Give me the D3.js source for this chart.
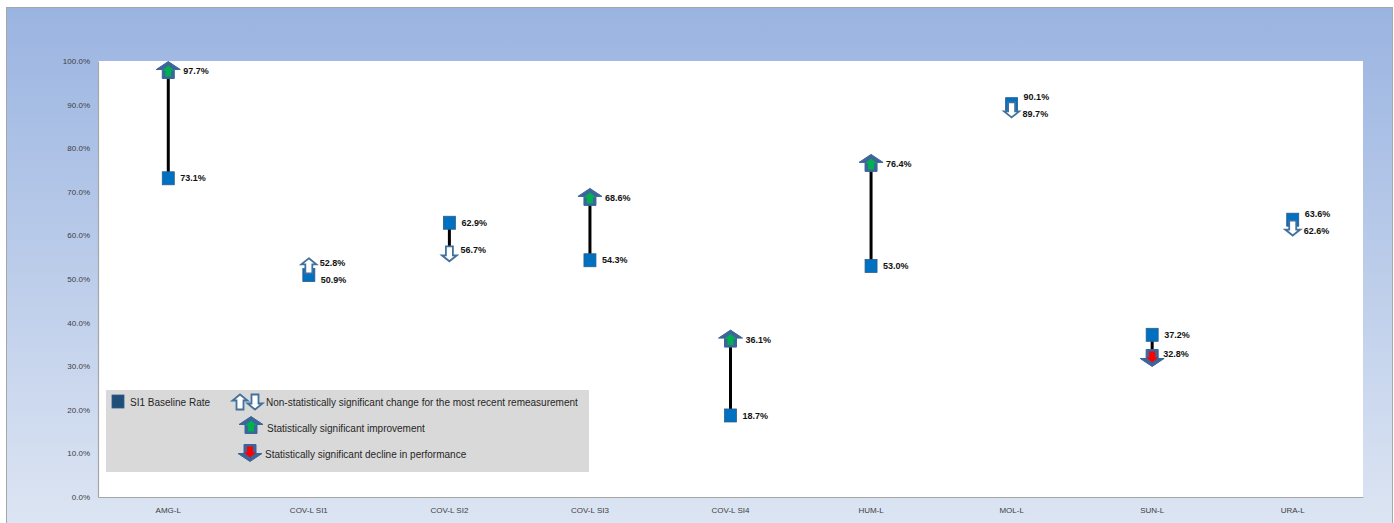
<!DOCTYPE html>
<html><head><meta charset="utf-8">
<script src="https://cdn.jsdelivr.net/npm/d3@7/dist/d3.min.js"></script>
<style>body{margin:0;background:#fff;}svg{display:block;}</style>
</head><body><svg id="c" width="1394" height="523"></svg>
<script>
const categories = ["AMG-L","COV-L SI1","COV-L SI2","COV-L SI3","COV-L SI4","HUM-L","MOL-L","SUN-L","URA-L"];
const baseline = [73.1, 50.9, 62.9, 54.3, 18.7, 53.0, 90.1, 37.2, 63.6];
const remeasure = [97.7, 52.8, 56.7, 68.6, 36.1, 76.4, 89.7, 32.8, 62.6];
// status: "sigUp" = statistically significant improvement, "sigDown" = significant decline,
// "nsUp"/"nsDown" = non-statistically significant change
const status = ["sigUp","nsUp","nsDown","sigUp","sigUp","sigUp","nsDown","sigDown","nsDown"];
const yTicks = [0,10,20,30,40,50,60,70,80,90,100];

const svg = d3.select("#c");
const plot = {x0: 98, x1: 1363, y0: 61, y1: 497};
const font = "'Liberation Sans', Arial, sans-serif";

const defs = svg.append("defs");
const grad = defs.append("linearGradient").attr("id","bg").attr("x1",0).attr("y1",0).attr("x2",0).attr("y2",1);
grad.append("stop").attr("offset","0%").attr("stop-color","#9AB4E1");
grad.append("stop").attr("offset","100%").attr("stop-color","#DEE6F3");

svg.append("rect").attr("x",6.5).attr("y",7.5).attr("width",1386).attr("height",530)
  .attr("fill","url(#bg)").attr("stroke","#A6A6A6").attr("stroke-width",1);

svg.append("rect").attr("x",plot.x0).attr("y",plot.y0).attr("width",plot.x1-plot.x0).attr("height",plot.y1-plot.y0)
  .attr("fill","#fff");

const x = d3.scaleBand().domain(categories).range([plot.x0, plot.x1]).padding(0);
const y = d3.scaleLinear().domain([0,100]).range([plot.y1, plot.y0]);
const cx = c => x(c) + x.bandwidth()/2;

const yAxis = d3.axisLeft(y).tickValues(yTicks).tickSize(0).tickPadding(8).tickFormat(d => d.toFixed(1)+"%");
const gy = svg.append("g").attr("transform",`translate(${plot.x0},0)`).call(yAxis);
gy.select(".domain").attr("stroke","#A6A6A6").attr("stroke-width",1.2);
gy.selectAll("text").attr("font-family",font).attr("font-size","8px").attr("fill","#404040");

const xAxis = d3.axisBottom(x).tickSize(0).tickPadding(10);
const gx = svg.append("g").attr("transform",`translate(0,${plot.y1})`).call(xAxis);
gx.select(".domain").attr("stroke","#A6A6A6").attr("stroke-width",1.2);
gx.selectAll("text").attr("font-family",font).attr("font-size","8px").attr("fill","#404040");

function arrowPath(w, sw, hh, sh, dir) {
  const s = dir === "up" ? 1 : -1;
  const top = -(hh+sh)/2;
  const pts = [
    [0, top],
    [w/2, top+hh],
    [sw/2, top+hh],
    [sw/2, top+hh+sh],
    [-sw/2, top+hh+sh],
    [-sw/2, top+hh],
    [-w/2, top+hh]
  ].map(p => [p[0], p[1]*s]);
  return "M" + pts.map(p => p.join(",")).join("L") + "Z";
}

function drawArrow(g, type, px, py) {
  const up = type === "sigUp" || type === "nsUp";
  const dir = up ? "up" : "down";
  const ay = up ? py - 1 : py + 4;
  const a = g.append("g").attr("transform",`translate(${px},${ay})`);
  if (type === "sigUp" || type === "sigDown") {
    a.append("path").attr("d", arrowPath(24, 12, 8, 9, dir)).attr("fill","#3C659A").attr("stroke","#3C659A").attr("stroke-width",1);
    a.append("path").attr("d", arrowPath(12, 6, 5, 6, dir)).attr("transform",`translate(0,${up?1:-1})`)
      .attr("fill", type === "sigUp" ? "#00B050" : "#FF0000");
  } else {
    a.append("path").attr("d", arrowPath(15, 7, 6, 9, dir)).attr("fill","#fff").attr("stroke","#41719C").attr("stroke-width",1.8);
  }
}

const g = svg.append("g");
categories.forEach((c, i) => {
  const px = cx(c);
  const yb = y(baseline[i]), yr = y(remeasure[i]);
  g.append("line").attr("x1",px).attr("x2",px).attr("y1",yb).attr("y2",yr)
    .attr("stroke","#000").attr("stroke-width",3);
  g.append("rect").attr("x",px-6).attr("y",yb-6.5).attr("width",12).attr("height",13)
    .attr("fill","#0070C0").attr("stroke","#2E5C8A").attr("stroke-width",0.8);
  drawArrow(g, status[i], px, yr);

  let lb = yb, lr = yr;
  const minSep = 17;
  if (Math.abs(lb - lr) < minSep) {
    const mid = (lb + lr) / 2;
    if (lb > lr) { lb = mid + minSep/2; lr = mid - minSep/2; }
    else { lb = mid - minSep/2; lr = mid + minSep/2; }
  }
  g.append("text").attr("x",px+12).attr("y",lb).attr("dy","0.35em")
    .attr("font-family",font).attr("font-size","9px").attr("font-weight","bold").attr("fill","#111")
    .text(baseline[i].toFixed(1)+"%");
  g.append("text").attr("x",px+(status[i]==="sigUp"?15:11)).attr("y",lr).attr("dy","0.35em")
    .attr("font-family",font).attr("font-size","9px").attr("font-weight","bold").attr("fill","#111")
    .text(remeasure[i].toFixed(1)+"%");
});

const lg = svg.append("g");
lg.append("rect").attr("x",106).attr("y",390).attr("width",483).attr("height",82).attr("fill","#D9D9D9");
lg.append("rect").attr("x",112).attr("y",395).attr("width",12).attr("height",13).attr("fill","#1F4E79").attr("stroke","#2E5C8A").attr("stroke-width",0.8);
const lt = (tx, ty, s) => lg.append("text").attr("x",tx).attr("y",ty).attr("dy","0.35em")
  .attr("font-family",font).attr("font-size","10px").attr("fill","#262626").text(s);
lt(130, 402, "SI1 Baseline Rate");
drawArrow(lg, "nsUp", 240, 403);
drawArrow(lg, "nsDown", 255, 398);
lt(266, 402, "Non-statistically significant change for the most recent remeasurement");
drawArrow(lg, "sigUp", 251, 426);
lt(267, 428, "Statistically significant improvement");
drawArrow(lg, "sigDown", 250, 449);
lt(265, 454, "Statistically significant decline in performance");
</script></body></html>
